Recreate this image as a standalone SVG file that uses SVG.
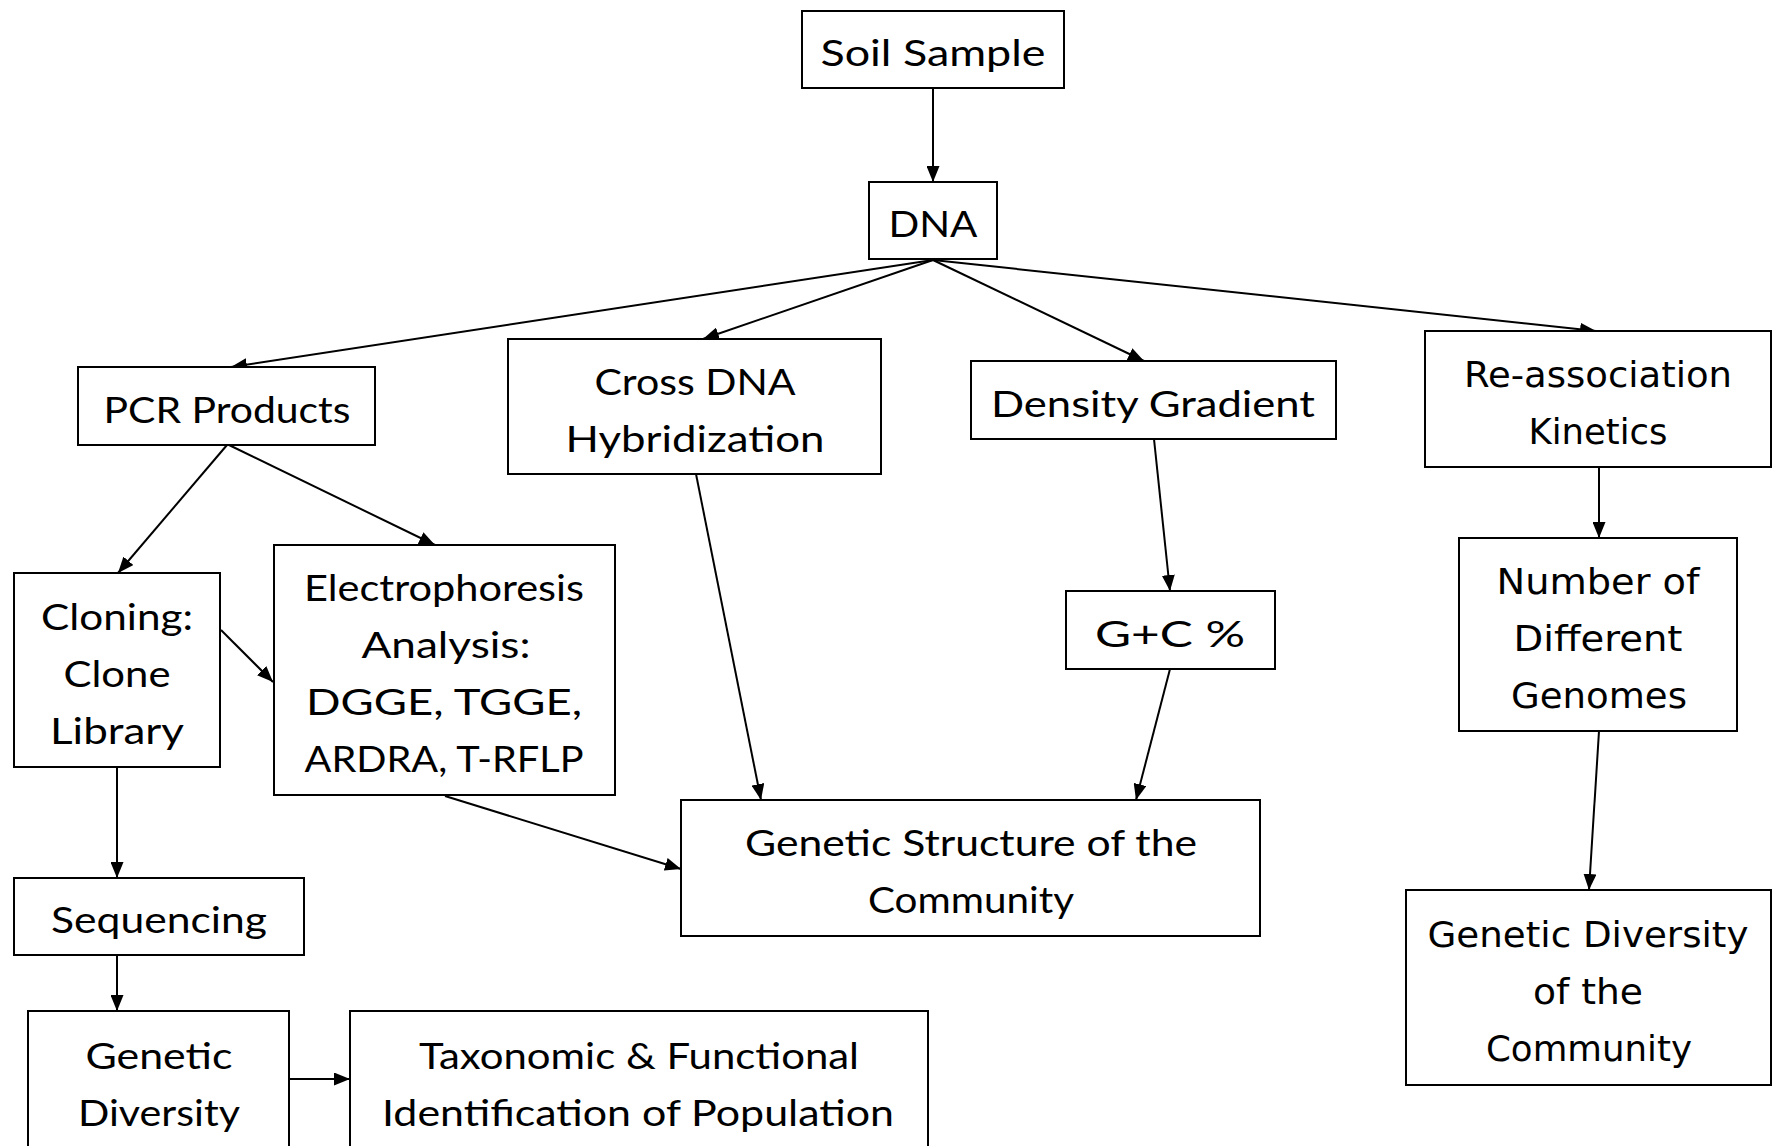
<svg xmlns="http://www.w3.org/2000/svg" width="1772" height="1146" viewBox="0 0 1772 1146">
<style>
.box{fill:#fff;stroke:#000;stroke-width:2}
.t{font-family:Lato,"Liberation Sans",sans-serif;font-size:37px;fill:#000;text-anchor:middle}
.w{font-family:"DejaVu Sans","Liberation Sans",sans-serif;font-size:35px;fill:#000;text-anchor:middle}
.c{fill:none;stroke:#000;stroke-width:2;marker-end:url(#ah)}
</style>
<defs>
<marker id="ah" viewBox="0 0 16 13" markerUnits="userSpaceOnUse" markerWidth="16" markerHeight="13" refX="16" refY="6.5" orient="auto">
<path d="M0,0 L16,6.5 L0,13 z" fill="#000"/>
</marker>
</defs>
<rect width="1772" height="1146" fill="#fff"/>
<g id="connectors">
<line class="c" x1="933" y1="88" x2="933" y2="182"/>
<line class="c" x1="933" y1="260" x2="231" y2="367"/>
<line class="c" x1="933" y1="260" x2="703" y2="339"/>
<line class="c" x1="933" y1="260" x2="1144" y2="361"/>
<line class="c" x1="933" y1="260" x2="1596" y2="331"/>
<line class="c" x1="227" y1="445" x2="118" y2="573"/>
<line class="c" x1="229" y1="445" x2="435" y2="545"/>
<line class="c" x1="221" y1="630" x2="273" y2="682"/>
<line class="c" x1="117" y1="767" x2="117" y2="878"/>
<line class="c" x1="117" y1="955" x2="117" y2="1011"/>
<line class="c" x1="289" y1="1079" x2="350" y2="1079"/>
<line class="c" x1="445" y1="796" x2="681" y2="869"/>
<line class="c" x1="696" y1="474" x2="761" y2="800"/>
<line class="c" x1="1154" y1="439" x2="1170" y2="591"/>
<line class="c" x1="1170" y1="669" x2="1136" y2="800"/>
<line class="c" x1="1599" y1="467" x2="1599" y2="538"/>
<line class="c" x1="1599" y1="731" x2="1589" y2="890"/>
</g>
<g id="soil"><rect class="box" x="802" y="11" width="262" height="77"/><text class="t" x="933" y="66" textLength="225" lengthAdjust="spacingAndGlyphs">Soil Sample</text></g>
<g id="dna"><rect class="box" x="869" y="182" width="128" height="77"/><text class="t" x="933" y="237" textLength="89" lengthAdjust="spacingAndGlyphs">DNA</text></g>
<g id="pcr"><rect class="box" x="78" y="367" width="297" height="78"/><text class="t" x="227" y="423" textLength="247" lengthAdjust="spacingAndGlyphs">PCR Products</text></g>
<g id="cross"><rect class="box" x="508" y="339" width="373" height="135"/><text class="t" x="695" y="395" textLength="201" lengthAdjust="spacingAndGlyphs">Cross DNA</text><text class="t" x="695" y="452" textLength="259" lengthAdjust="spacingAndGlyphs">Hybridization</text></g>
<g id="density"><rect class="box" x="971" y="361" width="365" height="78"/><text class="t" x="1153" y="417" textLength="324" lengthAdjust="spacingAndGlyphs">Density Gradient</text></g>
<g id="reassoc"><rect class="box" x="1425" y="331" width="346" height="136"/><text class="w" x="1598" y="387" textLength="268" lengthAdjust="spacingAndGlyphs">Re-association</text><text class="w" x="1598" y="444" textLength="139" lengthAdjust="spacingAndGlyphs">Kinetics</text></g>
<g id="cloning"><rect class="box" x="14" y="573" width="206" height="194"/><text class="t" x="117" y="630" textLength="152" lengthAdjust="spacingAndGlyphs">Cloning:</text><text class="t" x="117" y="687" textLength="107" lengthAdjust="spacingAndGlyphs">Clone</text><text class="t" x="117" y="744" textLength="134" lengthAdjust="spacingAndGlyphs">Library</text></g>
<g id="electro"><rect class="box" x="274" y="545" width="341" height="250"/><text class="t" x="444" y="601" textLength="280" lengthAdjust="spacingAndGlyphs">Electrophoresis</text><text class="t" x="446" y="658" textLength="169" lengthAdjust="spacingAndGlyphs">Analysis:</text><text class="t" x="444" y="715" textLength="276" lengthAdjust="spacingAndGlyphs">DGGE, TGGE,</text><text class="t" x="444" y="772" textLength="279" lengthAdjust="spacingAndGlyphs">ARDRA, T-RFLP</text></g>
<g id="gc"><rect class="box" x="1066" y="591" width="209" height="78"/><text class="t" x="1170" y="647" textLength="150" lengthAdjust="spacingAndGlyphs">G+C %</text></g>
<g id="number"><rect class="box" x="1459" y="538" width="278" height="193"/><text class="w" x="1598" y="594" textLength="203" lengthAdjust="spacingAndGlyphs">Number of</text><text class="w" x="1598" y="651" textLength="169" lengthAdjust="spacingAndGlyphs">Different</text><text class="w" x="1599" y="708" textLength="176" lengthAdjust="spacingAndGlyphs">Genomes</text></g>
<g id="structure"><rect class="box" x="681" y="800" width="579" height="136"/><text class="t" x="971" y="856" textLength="452" lengthAdjust="spacingAndGlyphs">Genetic Structure of the</text><text class="t" x="971" y="913" textLength="206" lengthAdjust="spacingAndGlyphs">Community</text></g>
<g id="sequencing"><rect class="box" x="14" y="878" width="290" height="77"/><text class="t" x="159" y="933" textLength="216" lengthAdjust="spacingAndGlyphs">Sequencing</text></g>
<g id="gdcommunity"><rect class="box" x="1406" y="890" width="365" height="195"/><text class="w" x="1588" y="947" textLength="321" lengthAdjust="spacingAndGlyphs">Genetic Diversity</text><text class="w" x="1588" y="1004" textLength="110" lengthAdjust="spacingAndGlyphs">of the</text><text class="w" x="1589" y="1061" textLength="206" lengthAdjust="spacingAndGlyphs">Community</text></g>
<g id="gdiversity"><rect class="box" x="28" y="1011" width="261" height="160"/><text class="t" x="159" y="1069" textLength="147" lengthAdjust="spacingAndGlyphs">Genetic</text><text class="t" x="159" y="1126" textLength="162" lengthAdjust="spacingAndGlyphs">Diversity</text></g>
<g id="taxonomic"><rect class="box" x="350" y="1011" width="578" height="160"/><text class="t" x="639" y="1069" textLength="440" lengthAdjust="spacingAndGlyphs">Taxonomic &amp; Functional</text><text class="t" x="638" y="1126" textLength="512" lengthAdjust="spacingAndGlyphs">Identification of Population</text></g>
</svg>
